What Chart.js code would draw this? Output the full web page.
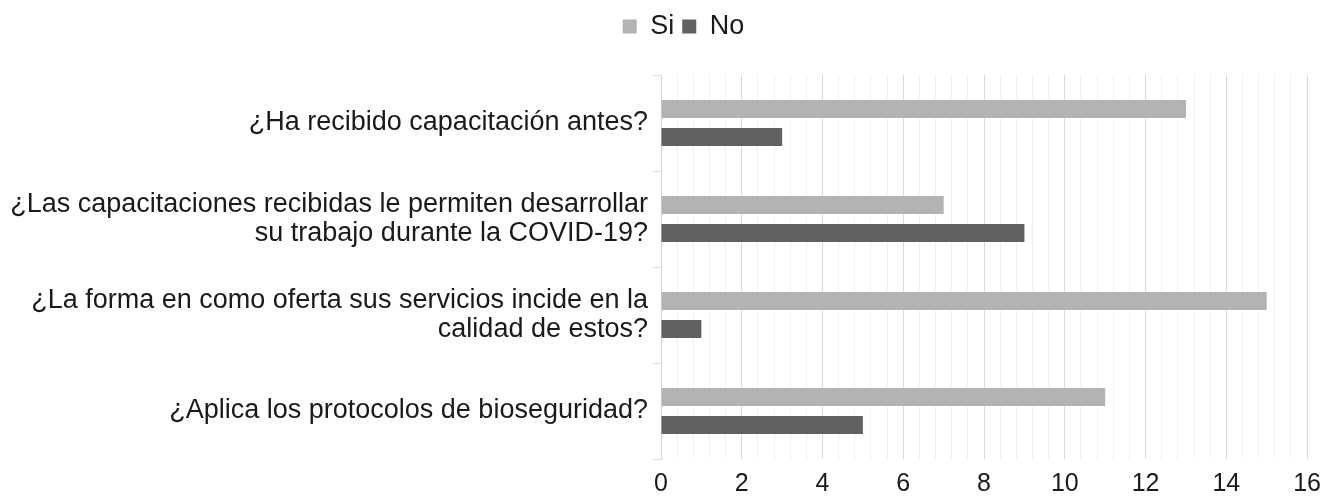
<!DOCTYPE html>
<html lang="es">
<head>
  <meta charset="UTF-8" />
  <title>Capacitación y bioseguridad</title>
  <script src="https://cdn.jsdelivr.net/npm/chart.js@4.4.0/dist/chart.umd.min.js"></script>
  <style>
    html, body { margin: 0; padding: 0; background: #fff; }
    #wrap { width: 1331px; height: 502px; position: relative; }
  </style>
</head>
<body>
  <div id="wrap"><canvas id="chart"></canvas></div>

  <script>
    // data
    const preguntas = [
      '¿Ha recibido capacitación antes?',
      ['¿Las capacitaciones recibidas le permiten desarrollar', 'su trabajo durante la COVID-19?'],
      ['¿La forma en como oferta sus servicios incide en la', 'calidad de estos?'],
      '¿Aplica los protocolos de bioseguridad?'
    ];
    const si = [13, 7, 15, 11];
    const no = [3, 9, 1, 5];
    const xMax = 16;

    const font = 'Liberation Sans, Arial, sans-serif';

    // more room under the legend, and nudge it right like the original
    const legendTweak = {
      id: 'legendTweak',
      beforeInit(chart) {
        const lg = chart.legend;
        const fit = lg.fit;
        lg.fit = function () {
          fit.call(this);
          this.height += 25;
        };
        const draw = lg.draw;
        lg.draw = function () {
          const ctx = this.ctx;
          ctx.save();
          ctx.translate(26, 0);
          draw.call(this);
          ctx.restore();
        };
      }
    };

    new Chart(document.getElementById('chart'), {
      type: 'bar',
      data: {
        labels: preguntas,
        datasets: [
          { label: 'Si', data: si, backgroundColor: '#b3b3b3' },
          { label: 'No', data: no, backgroundColor: '#616161' }
        ]
      },
      options: {
        indexAxis: 'y',
        responsive: true,
        maintainAspectRatio: false,
        animation: false,
        datasets: { bar: { categoryPercentage: 0.583, barPercentage: 0.64 } },
        layout: { padding: { top: 5, right: 16, bottom: 0, left: 0 } },
        scales: {
          x: {
            min: 0,
            max: xMax,
            afterFit: (scale) => { scale.height = 43; },
            ticks: {
              stepSize: 0.4,
              autoSkip: false,
              maxRotation: 0,
              padding: 10,
              color: '#1a1a1a',
              font: { family: font, size: 25 },
              callback: (v) => {
                const r = Math.round(v * 10) / 10;
                return r % 2 === 0 ? r : '';
              }
            },
            grid: {
              drawTicks: false,
              color: (ctx) => {
                const r = Math.round(ctx.tick.value * 10) / 10;
                return r % 2 === 0 ? '#d9d9d9' : '#f0f0f0';
              },
              lineWidth: 1
            },
            border: { display: false }
          },
          y: {
            afterFit: (scale) => { scale.width = 661; },
            ticks: {
              padding: 5,
              color: '#1a1a1a',
              font: { family: font, size: 27, lineHeight: 1.1 }
            },
            grid: {
              drawOnChartArea: false,
              drawTicks: true,
              tickLength: 8,
              color: '#d9d9d9'
            },
            border: { display: true, color: '#d9d9d9' }
          }
        },
        plugins: {
          legend: {
            position: 'top',
            labels: {
              boxWidth: 14,
              boxHeight: 14,
              padding: 8,
              color: '#1a1a1a',
              font: { family: font, size: 27 }
            }
          },
          tooltip: { enabled: false }
        }
      },
      plugins: [legendTweak]
    });
  </script>
</body>
</html>
